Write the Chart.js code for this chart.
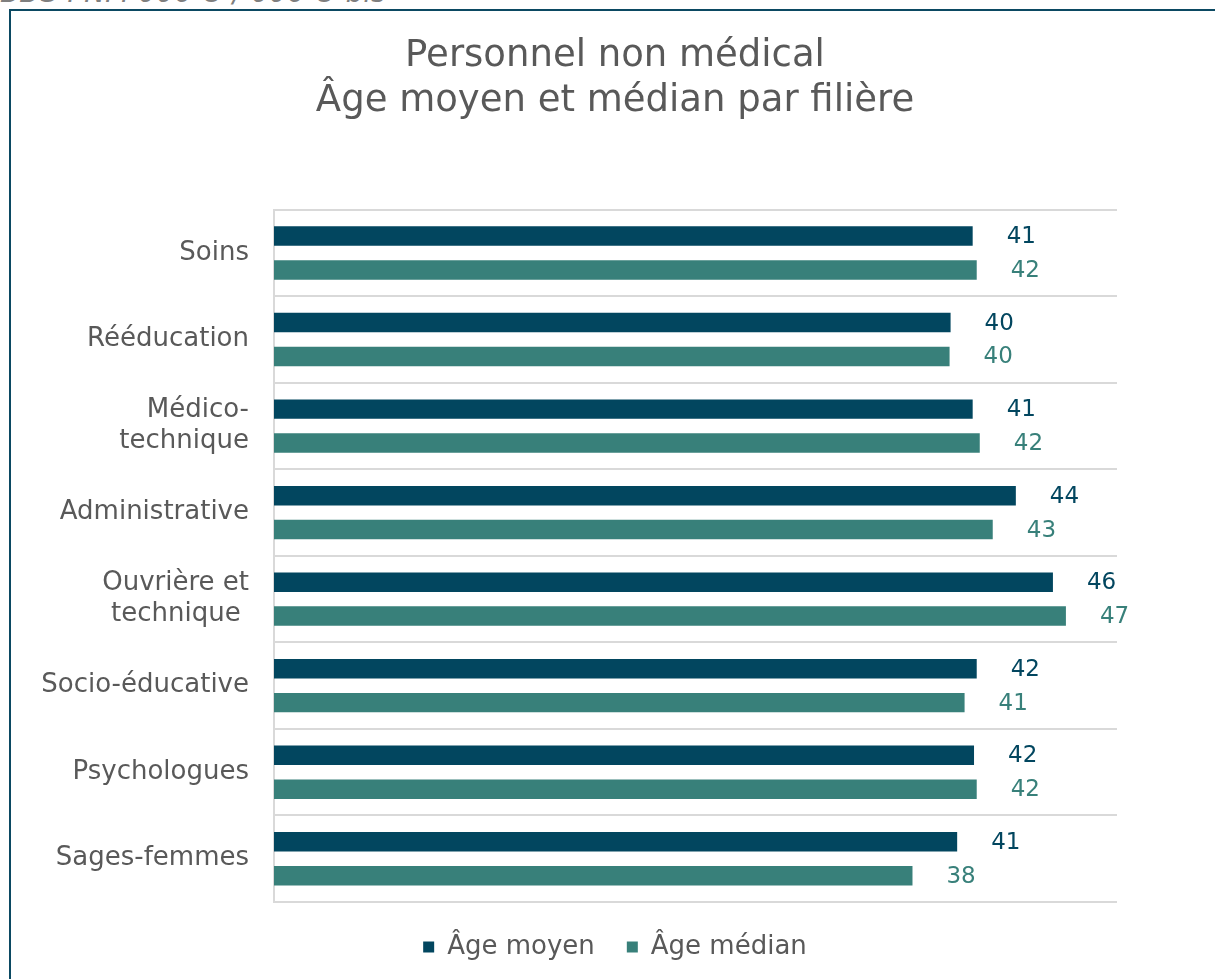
<!DOCTYPE html>
<html>
<head>
<meta charset="utf-8">
<script src="https://cdn.jsdelivr.net/npm/chart.js@4.4.1/dist/chart.umd.min.js"></script>
<style>
  html, body { margin: 0; padding: 0; background: #ffffff; overflow: hidden; width: 1215px; height: 979px; position: relative; }
  #frame { position: absolute; left: 9px; top: 9px; width: 1400px; height: 1200px; border: 2px solid #0b4962; box-sizing: border-box; }
  #ref { position: absolute; left: 0px; top: -21px; font-family: "DejaVu Sans", sans-serif; font-style: italic; font-size: 28px; line-height: 28px; color: #7f7f7f; white-space: nowrap; }
  #c { position: absolute; left: 0; top: 0; }
</style>
</head>
<body>
<div id="frame"></div>
<div id="ref">BDS PNM 006-O / 006-O bis</div>
<canvas id="c" width="1240" height="979"></canvas>
<script>
const categories = ['Soins', 'Rééducation', ['Médico-', 'technique'], 'Administrative', ['Ouvrière et', 'technique '], 'Socio-éducative', 'Psychologues', 'Sages-femmes'];
const ageMoyen  = [41.44, 40.13, 41.44, 44.0, 46.2, 41.68, 41.52, 40.52];
const ageMedian = [41.68, 40.07, 41.86, 42.63, 46.97, 40.96, 41.68, 37.87];
const seriesNames = ['Âge moyen', 'Âge médian'];
const titleLines = ['Personnel non médical', 'Âge moyen et médian par filière'];

const colMoyen = '#02465f';
const colMedian = '#38807a';
const textGray = '#595959';
const FONT = '"DejaVu Sans", Verdana, sans-serif';

const valueLabels = {
  id: 'valueLabels',
  afterDatasetsDraw(chart) {
    const ctx = chart.ctx;
    ctx.save();
    ctx.font = '23px ' + FONT;
    ctx.textAlign = 'left';
    ctx.textBaseline = 'middle';
    chart.data.datasets.forEach((ds, di) => {
      const meta = chart.getDatasetMeta(di);
      meta.data.forEach((bar, i) => {
        ctx.fillStyle = ds.backgroundColor;
        ctx.fillText(String(Math.round(ds.data[i])), bar.x + 34, bar.y + 1);
      });
    });
    ctx.restore();
  }
};

new Chart(document.getElementById('c'), {
  type: 'bar',
  data: {
    labels: categories,
    datasets: [
      { label: seriesNames[0], data: ageMoyen, backgroundColor: colMoyen, categoryPercentage: 0.784, barPercentage: 0.574 },
      { label: seriesNames[1], data: ageMedian, backgroundColor: colMedian, categoryPercentage: 0.784, barPercentage: 0.574 }
    ]
  },
  options: {
    indexAxis: 'y',
    responsive: false,
    animation: false,
    layout: { padding: { left: 0, right: 10, top: 0, bottom: 9 } },
    scales: {
      x: { display: false, min: 0, max: 50 },
      y: {
        afterFit(scale) { scale.width = 274; },
        grid: { color: '#d9d9d9', lineWidth: 2, drawTicks: false },
        border: { display: true, color: '#d9d9d9', width: 2 },
        ticks: { color: textGray, padding: 25, font: { family: FONT, size: 26 } }
      },
      y2: {
        type: 'category',
        axis: 'y',
        position: 'right',
        display: true,
        afterFit(scale) { scale.width = 113; },
        grid: { display: false, drawTicks: false },
        border: { display: false },
        ticks: { display: false }
      }
    },
    plugins: {
      title: {
        display: true,
        text: titleLines,
        color: textGray,
        font: { family: FONT, size: 37, weight: 'normal', lineHeight: 1.24 },
        padding: { top: 33, bottom: 85 }
      },
      legend: {
        display: true,
        position: 'bottom',
        labels: {
          color: textGray,
          font: { family: FONT, size: 26 },
          boxWidth: 11,
          boxHeight: 11,
          padding: 32
        }
      },
      tooltip: { enabled: false }
    }
  },
  plugins: [valueLabels]
});
</script>
</body>
</html>
